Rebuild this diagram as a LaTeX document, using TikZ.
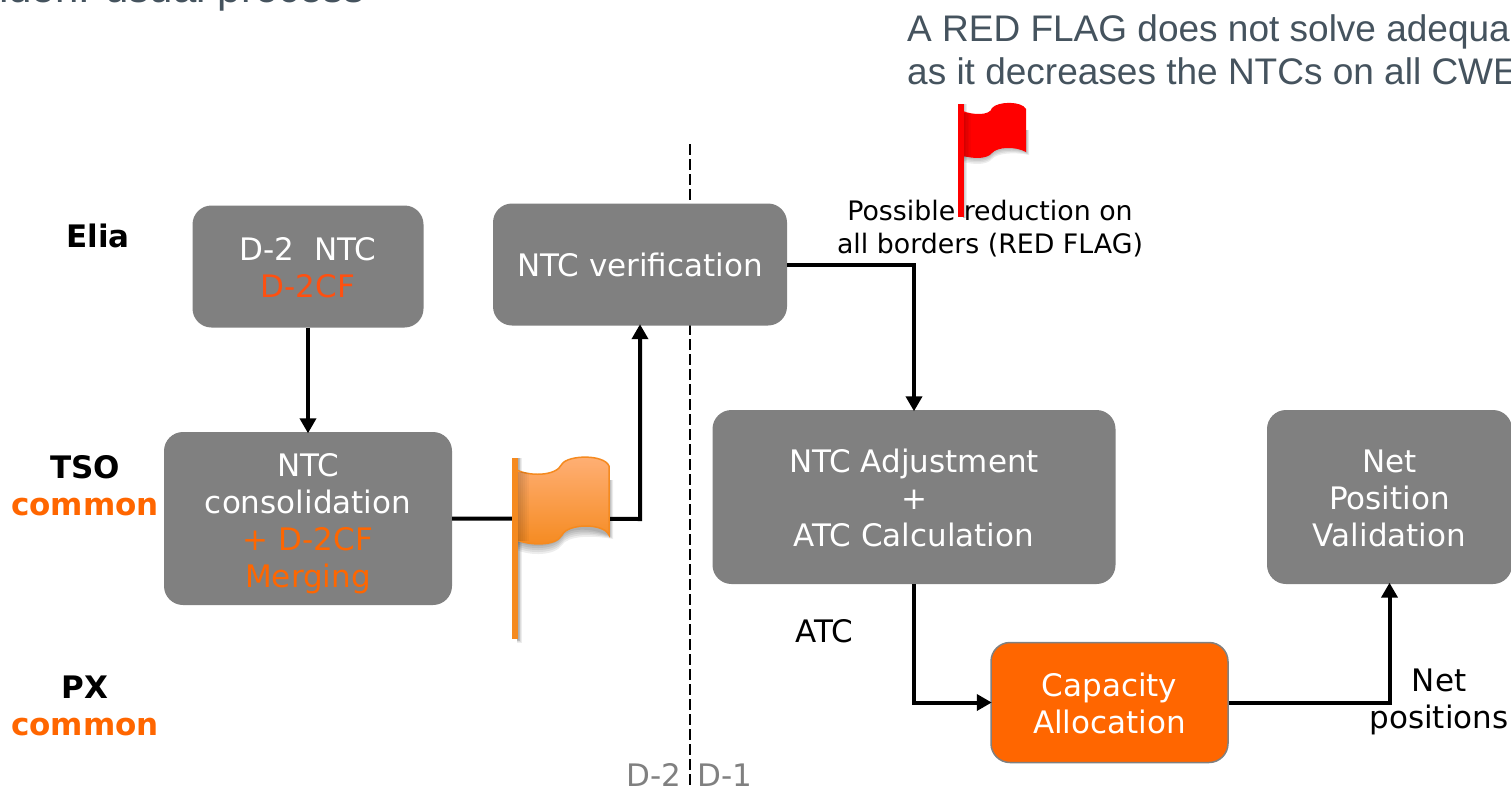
\documentclass[tikz,border=0pt]{standalone}
\usepackage{fontspec}
\setmainfont{DejaVu Sans}
\newfontfamily\arialf{Liberation Sans}
\usetikzlibrary{arrows.meta,calc}
\definecolor{boxgray}{HTML}{808080}
\definecolor{elorange}{HTML}{FF6600}
\definecolor{elred}{HTML}{FF5010}
\definecolor{titlegray}{HTML}{45535E}
\definecolor{flagor}{HTML}{F58A1F}
\definecolor{flagorl}{HTML}{FFB077}
\tikzset{
  x=1pt,y=-1pt,
  procbox/.style={fill=boxgray,draw=none,rounded corners=19pt,text=white,align=center,font=\fontsize{31}{37}\selectfont,inner sep=0pt},
  lbl/.style={font=\fontsize{31}{37}\selectfont\bfseries,align=center,inner sep=0pt},
  plain/.style={font=\fontsize{31}{37}\selectfont,align=center,inner sep=0pt},
  small/.style={font=\fontsize{26.8}{33}\selectfont,align=center,inner sep=0pt},
  conn/.style={draw=black,line width=4pt,shorten >=-1.5pt,-{Triangle[length=15pt,width=16pt]}},
  top/.style={font=\arialf\fontsize{37}{43}\selectfont,text=titlegray,inner sep=0pt,align=left},
  soft/.style={fill=black,opacity=.07},
}
\begin{document}
\begin{tikzpicture}
\useasboundingbox (0,0) rectangle (1511,789);
\clip (0,0) rectangle (1511,789);
\fill[white] (0,0) rectangle (1511,789);
% top texts
\node[top,font=\arialf\fontsize{42}{48}\selectfont,anchor=base east] (title) at (365,3) {nden: usual process};
\node[top,anchor=base west] (warn1) at (907,42) {A RED FLAG does not solve adequa};
\node[top,anchor=base west] (warn2) at (907,85) {as it decreases the NTCs on all CWE};
% divider
\coordinate (divt) at (690,144);
\coordinate (divb) at (690,787);
\draw[black,line width=1.1pt,dash pattern=on 11pt off 4pt] (divt) -- (divb);
% boxes
\node[procbox,minimum width=231pt,minimum height=122pt] (d2) at (308,266.5) {};
\node[procbox,minimum width=294pt,minimum height=122pt] (ver) at (640,264.5) {};
\node[procbox,minimum width=288pt,minimum height=173pt] (cons) at (308,518.5) {};
\node[procbox,minimum width=403pt,minimum height=174pt] (adj) at (914,497) {};
\node[procbox,minimum width=245pt,minimum height=174pt] (net) at (1389.5,497) {};
\node[procbox,fill=elorange,draw=boxgray,line width=1.5pt,minimum width=237pt,minimum height=120pt] (cap) at (1109.5,702.5) {};
\node[procbox,fill=none] (d2t) at (308,267.5) {D-2\ \ NTC\\\textcolor{elred}{D-2CF}};
\node[procbox,fill=none] (vert) at (640,265) {NTC verification};
\node[procbox,fill=none] (const) at (308,523.5) {NTC\\consolidation\\\textcolor{elorange}{+ D-2CF}\\\textcolor{elorange}{Merging}};
\node[procbox,fill=none] (adjt) at (914,498) {NTC Adjustment\\+\\ATC Calculation};
\node[procbox,fill=none] (nett) at (1389.5,498) {Net\\Position\\Validation};
\node[procbox,fill=none] (capt) at (1109.5,703.5) {Capacity\\Allocation};
% connectors
\coordinate (flagjoin) at (640,519);
\coordinate (vc) at (914,264.5);
\coordinate (ac) at (914,702.5);
\coordinate (nc) at (1389.5,702.5);
\draw[conn] (d2.south) -- (cons.north);
\draw[conn] (cons.east) -- (flagjoin) -- (ver.south);
\draw[conn] (ver.east) -- (vc) -- (adj.north);
\draw[conn] (adj.south) -- (ac) -- (cap.west);
\draw[conn] (cap.east) -- (nc) -- (net.south);
% orange flag
\foreach \d in {2,4,6,8,10}{
\path[soft] (517,480) -- (609+\d*.4,480) -- (609+\d*.4,535+\d*.4) .. controls (590,525+\d) and (568,526+\d) .. (562,535+\d) .. controls (555,546+\d) and (530,546+\d) .. (517,540+\d) -- cycle;
\fill[soft] (517,458) rectangle (518+\d*.4,639+\d*.4);
}
\path[top color=flagorl,bottom color=flagor,draw=flagor,line width=1.5pt] (517,470) .. controls (528,476) and (556,477) .. (562,464) .. controls (568,455) and (604,454) .. (609,466) -- (609,535) .. controls (604,523) and (568,523) .. (562,535) .. controls (556,547) and (528,545) .. (517,540) -- cycle;
\foreach \w in {2,4,...,12}{\fill[black,opacity=.03] (517,472) rectangle (517+\w,541);}
\fill[flagor] (512,458) rectangle (517.5,639);
% label under the red flag
\node[small,fill=white] (poss) at (990,229) {Possible reduction on\\all borders (RED FLAG)};
% red flag
\foreach \d in {1.5,3,4.5,6}{
\path[soft] (963,130) -- (1026+\d*.5,130) -- (1026+\d*.5,152+\d*.5) .. controls (1015,146+\d) and (997,147+\d) .. (992,153+\d) .. controls (987,159+\d) and (975,159+\d) .. (963,156+\d) -- cycle;
\fill[soft] (963,104) rectangle (963.5+\d*.5,218);
}
\path[fill=red] (963,111) .. controls (972,115) and (990,116) .. (992,108) .. controls (998,101) and (1022,101) .. (1026,109) -- (1026,152) .. controls (1015,146) and (997,147) .. (992,153) .. controls (987,159) and (975,159) .. (963,156) -- cycle;
\foreach \w in {1.5,3,4.5,6,7.5}{\fill[black,opacity=.035] (963,113) rectangle (963+\w,157);}
\fill[red] (958,104) rectangle (963.5,217);
\node[lbl] (elia) at (98,236) {Elia};
\node[lbl] (tso) at (85,485.5) {TSO\\\textcolor{elorange}{common}};
\node[lbl] (px) at (85,705.5) {PX\\\textcolor{elorange}{common}};
\node[plain] (atc) at (824,631) {ATC};
\node[plain] (np) at (1439,702) {Net\\positions};
\node[inner sep=0pt,font=\fontsize{31}{37}\selectfont,text=boxgray,anchor=base] (dm2) at (654,786) {D-2};
\node[inner sep=0pt,font=\fontsize{31}{37}\selectfont,text=boxgray,anchor=base] (dm1) at (725,786) {D-1};
\end{tikzpicture}
\end{document}
